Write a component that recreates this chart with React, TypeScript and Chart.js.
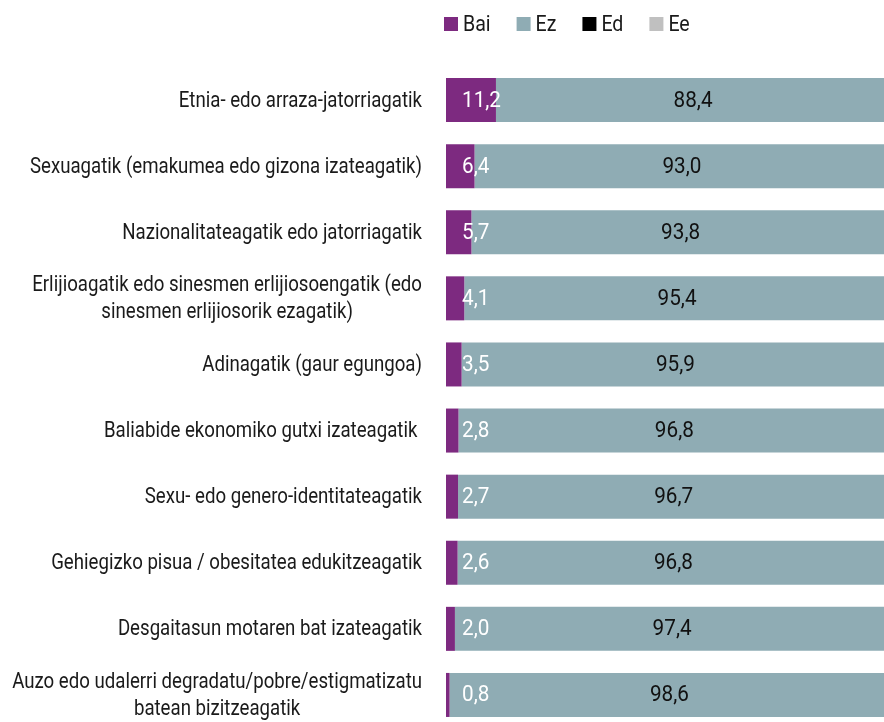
import React, { useEffect, useRef } from "react";
import { Chart, registerables } from "chart.js";

Chart.register(...registerables);

const categories: (string | string[])[] = [
  "Etnia- edo arraza-jatorriagatik",
  "Sexuagatik (emakumea edo gizona izateagatik)",
  "Nazionalitateagatik edo jatorriagatik",
  ["Erlijioagatik edo sinesmen erlijiosoengatik (edo", "sinesmen erlijiosorik ezagatik)"],
  "Adinagatik (gaur egungoa)",
  "Baliabide ekonomiko gutxi izateagatik ",
  "Sexu- edo genero-identitateagatik",
  "Gehiegizko pisua / obesitatea edukitzeagatik",
  "Desgaitasun motaren bat izateagatik",
  ["Auzo edo udalerri degradatu/pobre/estigmatizatu", "batean bizitzeagatik"],
];

const bai = [11.2, 6.4, 5.7, 4.1, 3.5, 2.8, 2.7, 2.6, 2.0, 0.8];
const ez = [88.4, 93.0, 93.8, 95.4, 95.9, 96.8, 96.7, 96.8, 97.4, 98.6];
const ed = [0.2, 0.3, 0.2, 0.2, 0.3, 0.2, 0.3, 0.3, 0.3, 0.3];
const ee = [0.2, 0.3, 0.3, 0.3, 0.3, 0.2, 0.3, 0.3, 0.3, 0.3];

const seriesNames = ["Bai", "Ez", "Ed", "Ee"];
const seriesColors = ["#7d2a80", "#8facb4", "#000000", "#c0c0c0"];

const FONT = 'Roboto, "Liberation Sans", Arial, sans-serif';
const FONT_SIZE = 22;

const fmt = (v: number) => v.toFixed(1).replace(".", ",");

function drawScaled(ctx: CanvasRenderingContext2D, text: string, x: number, y: number, align: "left" | "center" | "right", sx: number) {
  const w = ctx.measureText(text).width * sx;
  let left = x;
  if (align === "center") left = x - w / 2;
  else if (align === "right") left = x - w;
  ctx.save();
  ctx.translate(left, y);
  ctx.scale(sx, 1);
  ctx.textAlign = "left";
  ctx.fillText(text, 0, 0);
  ctx.restore();
}

const labelsPlugin = {
  id: "customLabels",
  afterDatasetsDraw(chart: any) {
    const ctx: CanvasRenderingContext2D = chart.ctx;
    const yScale = chart.scales.y;
    const area = chart.chartArea;
    ctx.save();
    ctx.font = `${FONT_SIZE}px ${FONT}`;
    ctx.textBaseline = "middle";
    // condensed look: horizontal compression
    const sxText = 392 / ctx.measureText("Sexuagatik (emakumea edo gizona izateagatik)").width;
    const sxNum = 39 / ctx.measureText("88,4").width;

    // legend
    let lx = 444;
    const ly = 24;
    seriesNames.forEach((n, i) => {
      ctx.fillStyle = seriesColors[i];
      ctx.fillRect(lx, ly - 7, 14, 14);
      lx += 14 + 5;
      ctx.fillStyle = "#1a1a1a";
      drawScaled(ctx, n, lx, ly + 1, "left", sxText * 1.05);
      lx += ctx.measureText(n).width * sxText * 1.05 + 26;
    });

    // category labels
    ctx.fillStyle = "#1a1a1a";
    const rightEdge = area.left - 24;
    categories.forEach((cat, i) => {
      const lines = Array.isArray(cat) ? cat : [cat];
      const y = yScale.getPixelForValue(i);
      const widths = lines.map((l) => ctx.measureText(l).width * sxText);
      const maxW = Math.max(...widths);
      const lh = 27;
      const cx = rightEdge - maxW / 2;
      lines.forEach((l, j) => {
        const ly2 = y + (j - (lines.length - 1) / 2) * lh + 1;
        drawScaled(ctx, l, cx, ly2, "center", sxText);
      });
    });

    // value labels
    const m0 = chart.getDatasetMeta(0);
    const m1 = chart.getDatasetMeta(1);
    bai.forEach((v, i) => {
      const bar = m0.data[i];
      ctx.fillStyle = "#ffffff";
      drawScaled(ctx, fmt(v), area.left + 16, bar.y + 1, "left", sxNum);
    });
    ez.forEach((v, i) => {
      const bar = m1.data[i];
      ctx.fillStyle = "#111111";
      drawScaled(ctx, fmt(v), (bar.base + bar.x) / 2, bar.y + 1, "center", sxNum);
    });
    ctx.restore();
  },
};

export default function App() {
  const ref = useRef<HTMLCanvasElement>(null);
  useEffect(() => {
    if (!ref.current) return;
    const data = [bai, ez, ed, ee];
    const chart = new Chart(ref.current, {
      type: "bar",
      data: {
        labels: categories.map((c) => (Array.isArray(c) ? c.join(" ") : c)),
        datasets: seriesNames.map((n, i) => ({
          label: n,
          data: data[i],
          backgroundColor: seriesColors[i],
          borderWidth: 0,
          barPercentage: 1,
          categoryPercentage: 0.666,
        })),
      },
      options: {
        indexAxis: "y",
        animation: false,
        responsive: false,
        maintainAspectRatio: false,
        layout: { padding: { left: 446, top: 67, bottom: 2, right: 0 } },
        plugins: { legend: { display: false }, tooltip: { enabled: false } },
        scales: {
          x: { stacked: true, min: 0, max: 100, display: false },
          y: { stacked: true, display: false },
        },
      },
      plugins: [labelsPlugin],
    });
    return () => chart.destroy();
  }, []);

  return (
    <div style={{ position: "fixed", left: 0, top: 0, width: 884, height: 722, overflow: "hidden", background: "#fff" }}>
      <canvas ref={ref} width={892} height={730} style={{ position: "absolute", left: 0, top: 0, width: 892, height: 730 }} />
    </div>
  );
}
